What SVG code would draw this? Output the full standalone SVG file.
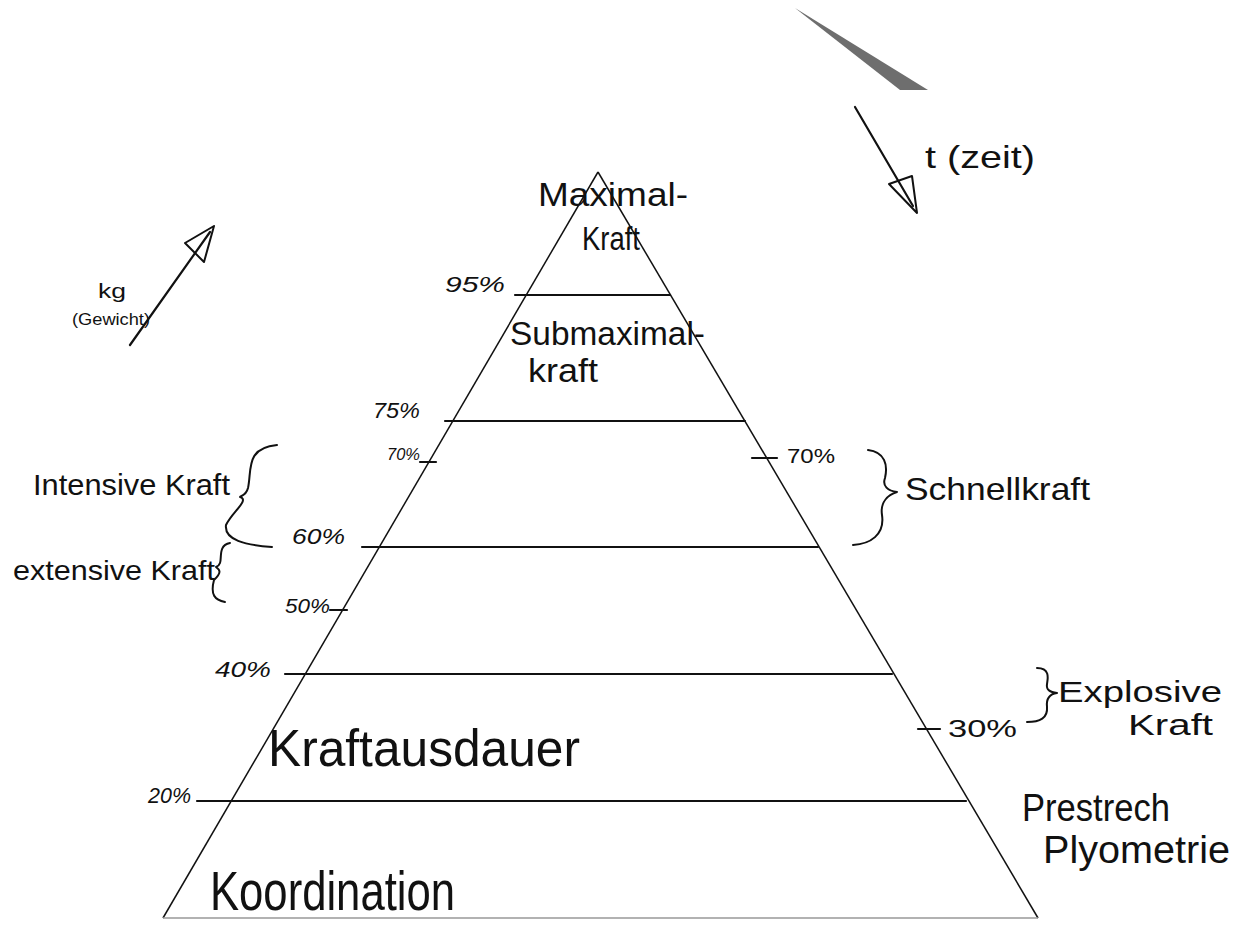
<svg xmlns="http://www.w3.org/2000/svg" width="1236" height="927" viewBox="0 0 1236 927">
<style>
.t{font-family:"Liberation Sans","DejaVu Sans",sans-serif;fill:#111;}
.ln{stroke:#111;stroke-width:2.2;fill:none;stroke-linecap:round;}
.edge{stroke:#111;stroke-width:1.5;fill:none;}
.br{stroke:#111;stroke-width:2;fill:none;stroke-linecap:round;stroke-linejoin:round;}
</style>
<rect width="1236" height="927" fill="#fff"/>
<polygon id="wedge" points="795,8 928,90 900,90" fill="#6e6e6e"/>
<g id="pyramid">
  <line class="edge" x1="598" y1="172" x2="163" y2="918"/>
  <line class="edge" x1="598" y1="172" x2="1038" y2="918"/>
  <line x1="163" y1="918" x2="1038" y2="918" stroke="#999" stroke-width="1.5"/>
</g>
<g id="connectors">
  <line class="ln" x1="515" y1="295" x2="670" y2="295"/>
  <line class="ln" x1="445" y1="421" x2="745" y2="421"/>
  <line class="ln" x1="362" y1="547" x2="818" y2="547"/>
  <line class="ln" x1="285" y1="674" x2="892" y2="674"/>
  <line class="ln" x1="197" y1="801" x2="966" y2="801"/>
  <line class="ln" x1="420" y1="462" x2="436" y2="462"/>
  <line class="ln" x1="330" y1="610" x2="347" y2="610"/>
  <line class="ln" x1="752" y1="458" x2="777" y2="458"/>
  <line class="ln" x1="918" y1="729" x2="940" y2="729"/>
</g>
<g id="top-level">
  <text class="t" x="538" y="206" font-size="34" textLength="150" lengthAdjust="spacingAndGlyphs">Maximal-</text>
  <text class="t" x="582" y="250" font-size="34" textLength="58" lengthAdjust="spacingAndGlyphs">Kraft</text>
</g>
<g id="submax-level">
  <text class="t" x="510" y="345" font-size="34" textLength="195" lengthAdjust="spacingAndGlyphs">Submaximal-</text>
  <text class="t" x="528" y="382" font-size="34" textLength="70" lengthAdjust="spacingAndGlyphs">kraft</text>
</g>
<g id="kraftausdauer-level">
  <text class="t" x="268" y="766" font-size="52" textLength="312" lengthAdjust="spacingAndGlyphs">Kraftausdauer</text>
</g>
<g id="koordination-level">
  <text class="t" x="210" y="910" font-size="56" textLength="245" lengthAdjust="spacingAndGlyphs">Koordination</text>
</g>
<g id="percent-labels" class="t" font-style="italic">
  <text x="445" y="292" font-size="22" textLength="60" lengthAdjust="spacingAndGlyphs">95%</text>
  <text x="373" y="418" font-size="22" textLength="47" lengthAdjust="spacingAndGlyphs">75%</text>
  <text x="387" y="460" font-size="17" textLength="33" lengthAdjust="spacingAndGlyphs">70%</text>
  <text x="292" y="544" font-size="22" textLength="53" lengthAdjust="spacingAndGlyphs">60%</text>
  <text x="285" y="613" font-size="20" textLength="45" lengthAdjust="spacingAndGlyphs">50%</text>
  <text x="215" y="677" font-size="22" textLength="56" lengthAdjust="spacingAndGlyphs">40%</text>
  <text x="148" y="803" font-size="22" textLength="43" lengthAdjust="spacingAndGlyphs">20%</text>
</g>
<g id="right-percent" class="t">
  <text x="787" y="463" font-size="20" textLength="48" lengthAdjust="spacingAndGlyphs">70%</text>
  <text x="948" y="737" font-size="24" textLength="69" lengthAdjust="spacingAndGlyphs">30%</text>
</g>
<g id="intensive">
  <text class="t" x="33" y="495" font-size="30" textLength="197" lengthAdjust="spacingAndGlyphs">Intensive Kraft</text>
  <path class="br" d="M277,445 C245,448 252,470 248,488 C246,496 240,496 240,497 C250,500 232,512 226,525 C224,540 245,545 272,547"/>
</g>
<g id="extensive">
  <text class="t" x="13" y="580" font-size="28" textLength="202" lengthAdjust="spacingAndGlyphs">extensive Kraft</text>
  <path class="br" d="M230,543 C218,545 222,558 220,563 C219,566 216,567 216,567 C220,570 222,572 214,580 C210,595 215,600 225,602"/>
</g>
<g id="schnellkraft">
  <text class="t" x="905" y="500" font-size="32" textLength="185" lengthAdjust="spacingAndGlyphs">Schnellkraft</text>
  <path class="br" d="M868,450 C885,452 888,465 885,478 C882,486 888,491 897,492 C888,495 880,502 882,515 C885,535 870,544 853,545"/>
</g>
<g id="explosive">
  <text class="t" x="1058" y="702" font-size="30" textLength="164" lengthAdjust="spacingAndGlyphs">Explosive</text>
  <text class="t" x="1128" y="735" font-size="30" textLength="85" lengthAdjust="spacingAndGlyphs">Kraft</text>
  <path class="br" d="M1037,668 C1050,668 1048,678 1047,684 C1046,690 1050,692 1057,693 C1050,694 1046,698 1047,707 C1048,718 1040,722 1027,722"/>
</g>
<g id="plyometrie">
  <text class="t" x="1022" y="821" font-size="38" textLength="148" lengthAdjust="spacingAndGlyphs">Prestrech</text>
  <text class="t" x="1043" y="863" font-size="38" textLength="187" lengthAdjust="spacingAndGlyphs">Plyometrie</text>
</g>
<g id="kg-axis">
  <text class="t" x="98" y="298" font-size="20" textLength="28" lengthAdjust="spacingAndGlyphs">kg</text>
  <text class="t" x="72" y="325" font-size="16" textLength="78" lengthAdjust="spacingAndGlyphs">(Gewicht)</text>
  <line class="ln" x1="130" y1="345" x2="210" y2="232"/>
  <polygon class="br" points="214,226 185,243 204,262"/>
</g>
<g id="t-axis">
  <text class="t" x="925" y="168" font-size="32" textLength="110" lengthAdjust="spacingAndGlyphs">t (zeit)</text>
  <line class="ln" x1="855" y1="107" x2="913" y2="206"/>
  <polygon class="br" points="917,213 889,184 912,176"/>
</g>
</svg>
